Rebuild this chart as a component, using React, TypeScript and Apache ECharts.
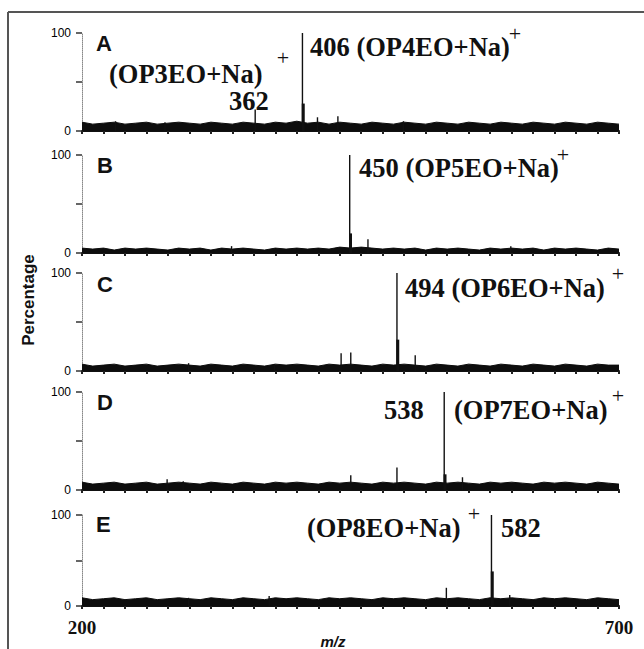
import React, { useEffect, useRef } from "react";
import * as echarts from "echarts";

// ---------- data ----------
const PANEL_LETTERS = ["A", "B", "C", "D", "E"];
const MZ_RANGE = [200, 700];
const Y_TICKS = [0, 50, 100];
const X_END_LABELS = [200, 700];

// m/z positions used for the baseline noise band
const NOISE_MZ = [200, 210, 220, 230, 240, 250, 260, 270, 280, 290, 300, 310, 320, 330, 340, 350, 360, 370, 380, 390, 400, 410, 420, 430, 440, 450, 460, 470, 480, 490, 500, 510, 520, 530, 540, 550, 560, 570, 580, 590, 600, 610, 620, 630, 640, 650, 660, 670, 680, 690, 700];

// baseline noise level (% of base peak) per panel
const NOISE_A = [9, 7, 8, 9, 7, 8, 9, 7, 8, 9, 8, 7, 9, 8, 7, 9, 8, 7, 9, 8, 10, 8, 9, 7, 9, 8, 7, 9, 8, 7, 9, 8, 7, 9, 8, 7, 9, 8, 7, 9, 8, 7, 9, 8, 7, 9, 8, 7, 9, 8, 7];
const NOISE_B = [5, 4, 5, 3, 5, 4, 5, 4, 3, 5, 4, 5, 3, 5, 4, 5, 4, 3, 5, 4, 5, 4, 5, 4, 6, 5, 6, 5, 4, 5, 4, 5, 3, 5, 4, 5, 4, 3, 5, 4, 5, 4, 5, 3, 5, 4, 5, 4, 3, 5, 4];
const NOISE_C = [7, 5, 6, 7, 5, 6, 7, 5, 6, 7, 6, 5, 7, 6, 5, 7, 6, 5, 7, 6, 7, 6, 5, 7, 6, 7, 6, 5, 7, 6, 7, 6, 5, 7, 6, 5, 7, 6, 5, 7, 6, 5, 7, 6, 5, 7, 6, 5, 7, 6, 6];
const NOISE_D = [8, 6, 7, 8, 6, 7, 8, 6, 7, 8, 7, 6, 8, 7, 6, 8, 7, 6, 8, 7, 8, 7, 6, 8, 7, 8, 7, 6, 8, 7, 8, 7, 6, 8, 7, 8, 7, 6, 8, 7, 8, 7, 6, 8, 7, 8, 7, 6, 8, 7, 6];
const NOISE_E = [9, 7, 8, 9, 7, 8, 9, 7, 8, 9, 8, 7, 9, 8, 7, 9, 8, 7, 9, 8, 9, 8, 7, 9, 8, 9, 8, 7, 9, 8, 9, 8, 7, 9, 8, 9, 8, 7, 9, 8, 9, 8, 7, 9, 8, 9, 8, 7, 9, 8, 7];

// sticks: [m/z, relative intensity %]
const PEAKS_A = [[232, 10], [278, 9], [362, 22], [406, 100], [420, 14], [439, 15], [500, 10]];
const PEAKS_B = [[340, 7], [450, 100], [467, 14], [600, 7]];
const PEAKS_C = [[300, 8], [442, 18], [451, 19], [494, 100], [511, 16], [380, 7]];
const PEAKS_D = [[280, 11], [295, 9], [451, 15], [494, 23], [538, 100], [555, 13]];
const PEAKS_E = [[300, 9], [375, 11], [540, 20], [582, 100], [599, 12]];

// thick lower part of the base peaks
const BASES_A = [[406, 28]];
const BASES_B = [[450, 20]];
const BASES_C = [[494, 32]];
const BASES_D = [[538, 16]];
const BASES_E = [[582, 38]];

const NOISE = [NOISE_A, NOISE_B, NOISE_C, NOISE_D, NOISE_E];
const PEAKS = [PEAKS_A, PEAKS_B, PEAKS_C, PEAKS_D, PEAKS_E];
const BASES = [BASES_A, BASES_B, BASES_C, BASES_D, BASES_E];

// ---------- layout ----------
const GRID_LEFT = 82;
const GRID_WIDTH = 537;
const GRID_TOPS = [33, 155, 273, 392, 515];
const GRID_HEIGHTS = [98, 98, 98, 98, 91];

const SERIF = "'Liberation Serif', 'Times New Roman', serif";
const SANS = "'Liberation Sans', Arial, sans-serif";
const INK = "#111111";

export default function App() {
  const ref = useRef<HTMLDivElement>(null);

  useEffect(() => {
    document.body.style.margin = "0";
    if (!ref.current) return;
    const chart = echarts.init(ref.current, null, { renderer: "svg" });

    const grids: any[] = [];
    const xAxes: any[] = [];
    const yAxes: any[] = [];
    const series: any[] = [];

    PANEL_LETTERS.forEach((_, i) => {
      grids.push({ left: GRID_LEFT, width: GRID_WIDTH, top: GRID_TOPS[i], height: GRID_HEIGHTS[i] });
      const last = i === PANEL_LETTERS.length - 1;
      xAxes.push({
        type: "value",
        gridIndex: i,
        min: MZ_RANGE[0],
        max: MZ_RANGE[1],
        interval: 20,
        axisLine: { show: true, onZero: false, lineStyle: { color: INK, width: 2 } },
        axisTick: { show: true, length: 3, lineStyle: { color: "#222", width: 2 } },
        splitLine: { show: false },
        axisLabel: last
          ? {
              show: true,
              margin: 12,
              fontFamily: SERIF,
              fontWeight: "bold",
              fontSize: 19,
              color: INK,
              formatter: (v: number) => (X_END_LABELS.includes(v) ? String(v) : ""),
            }
          : { show: false },
      });
      yAxes.push({
        type: "value",
        gridIndex: i,
        min: Y_TICKS[0],
        max: Y_TICKS[2],
        interval: Y_TICKS[1],
        axisLine: { show: true, lineStyle: { color: "#888", width: 1, type: "dotted" } },
        axisTick: { show: true, length: 6, lineStyle: { color: "#333", width: 1.5 } },
        splitLine: { show: false },
        axisLabel: {
          show: true,
          margin: 11,
          fontFamily: SANS,
          fontSize: 12,
          color: "#000",
          formatter: (v: number) => (v === Y_TICKS[1] ? "" : String(v)),
        },
      });
      series.push({
        type: "line",
        xAxisIndex: i,
        yAxisIndex: i,
        data: NOISE_MZ.map((m, k) => [m, NOISE[i][k]]),
        symbol: "none",
        lineStyle: { color: "#0d0d0d", width: 1 },
        areaStyle: { color: "#0d0d0d", opacity: 1 },
        z: 2,
      });
      series.push({
        type: "bar",
        xAxisIndex: i,
        yAxisIndex: i,
        data: PEAKS[i],
        barWidth: 1.4,
        itemStyle: { color: INK },
        z: 3,
      });
      series.push({
        type: "bar",
        xAxisIndex: i,
        yAxisIndex: i,
        data: BASES[i],
        barWidth: 3,
        barGap: "-100%",
        itemStyle: { color: INK },
        z: 3,
      });
    });

    const LABEL_SIZE = 26.5;
    const serifLabel = (text: string, x: number, y: number) => ({
      type: "text",
      x,
      y,
      style: { text, fontFamily: SERIF, fontWeight: "bold", fontSize: LABEL_SIZE, fill: INK, textVerticalAlign: "middle" },
    });
    const plus = (x: number, y: number) => ({
      type: "text",
      x,
      y,
      style: { text: "+", fontFamily: SERIF, fontSize: 22, fill: INK, textAlign: "center", textVerticalAlign: "middle" },
    });
    const letter = (text: string, x: number, y: number) => ({
      type: "text",
      x,
      y,
      style: { text, fontFamily: SANS, fontWeight: "bold", fontSize: 22, fill: INK, textVerticalAlign: "middle" },
    });

    const graphic: any[] = [
      { type: "line", shape: { x1: 8, y1: 12, x2: 644, y2: 12 }, style: { stroke: "#555", lineWidth: 2 } },
      { type: "line", shape: { x1: 8, y1: 12, x2: 8, y2: 649 }, style: { stroke: "#555", lineWidth: 2 } },
      letter("A", 96, 43),
      letter("B", 97, 165),
      letter("C", 97, 284),
      letter("D", 97, 402),
      letter("E", 96, 524),
      serifLabel("406 (OP4EO+Na)", 310, 47),
      plus(515, 33),
      serifLabel("(OP3EO+Na)", 109, 74),
      plus(283, 57),
      serifLabel("362", 229, 101),
      serifLabel("450 (OP5EO+Na)", 359, 168),
      plus(563, 154),
      serifLabel("494 (OP6EO+Na)", 405, 288),
      plus(618, 273),
      serifLabel("538", 384, 410),
      serifLabel("(OP7EO+Na)", 454, 410),
      plus(618, 395),
      serifLabel("(OP8EO+Na)", 307, 528),
      plus(474, 513),
      serifLabel("582", 501, 528),
      {
        type: "text",
        x: 28,
        y: 300,
        rotation: Math.PI / 2,
        style: { text: "Percentage", fontFamily: SANS, fontWeight: "bold", fontSize: 17, fill: INK, textAlign: "center", textVerticalAlign: "middle" },
      },
      {
        type: "text",
        x: 333,
        y: 641,
        style: { text: "m/z", fontFamily: SANS, fontWeight: "bold", fontStyle: "italic", fontSize: 15, fill: INK, textAlign: "center", textVerticalAlign: "middle" },
      },
    ];

    chart.setOption({
      animation: false,
      backgroundColor: "#fff",
      grid: grids,
      xAxis: xAxes,
      yAxis: yAxes,
      series,
      graphic,
    });

    return () => chart.dispose();
  }, []);

  return <div ref={ref} style={{ width: 644, height: 649 }} />;
}
